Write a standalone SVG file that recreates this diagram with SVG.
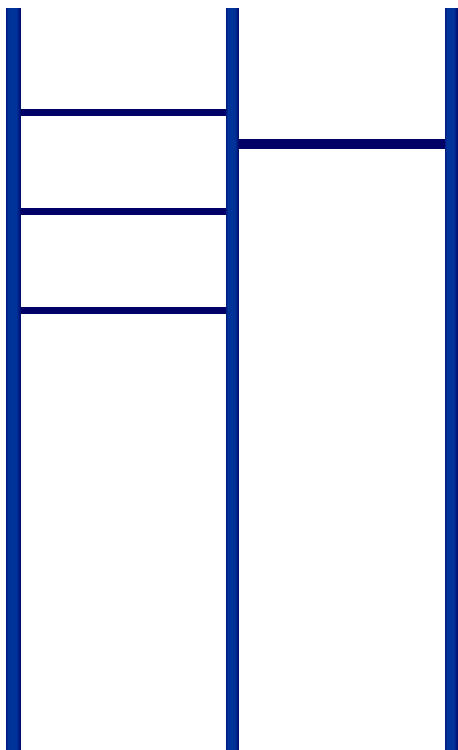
<svg xmlns="http://www.w3.org/2000/svg" width="458" height="750" viewBox="0 0 458 750">
<defs>
<linearGradient id="barGrad" x1="0" y1="0" x2="1" y2="0">
<stop offset="0" stop-color="#001a80"/>
<stop offset="0.2" stop-color="#003399"/>
<stop offset="0.7" stop-color="#003399"/>
<stop offset="1" stop-color="#000a6e"/>
</linearGradient>
<style>
.bar{fill:url(#barGrad);}
.link{fill:#000066;}
</style>
</defs>
<rect width="458" height="750" fill="#ffffff"/>
<g id="bar-left"><rect class="bar" x="6" y="8" width="15" height="742"/></g>
<g id="bar-middle"><rect class="bar" x="226" y="8" width="13" height="742"/></g>
<g id="bar-right"><rect class="bar" x="445" y="8" width="13" height="742"/></g>
<g id="connectors">
<rect class="link" x="21" y="109" width="205" height="7"/>
<rect class="link" x="21" y="208" width="205" height="7"/>
<rect class="link" x="21" y="307" width="205" height="7"/>
<rect class="link" x="239" y="139" width="206" height="10"/>
</g>
</svg>
